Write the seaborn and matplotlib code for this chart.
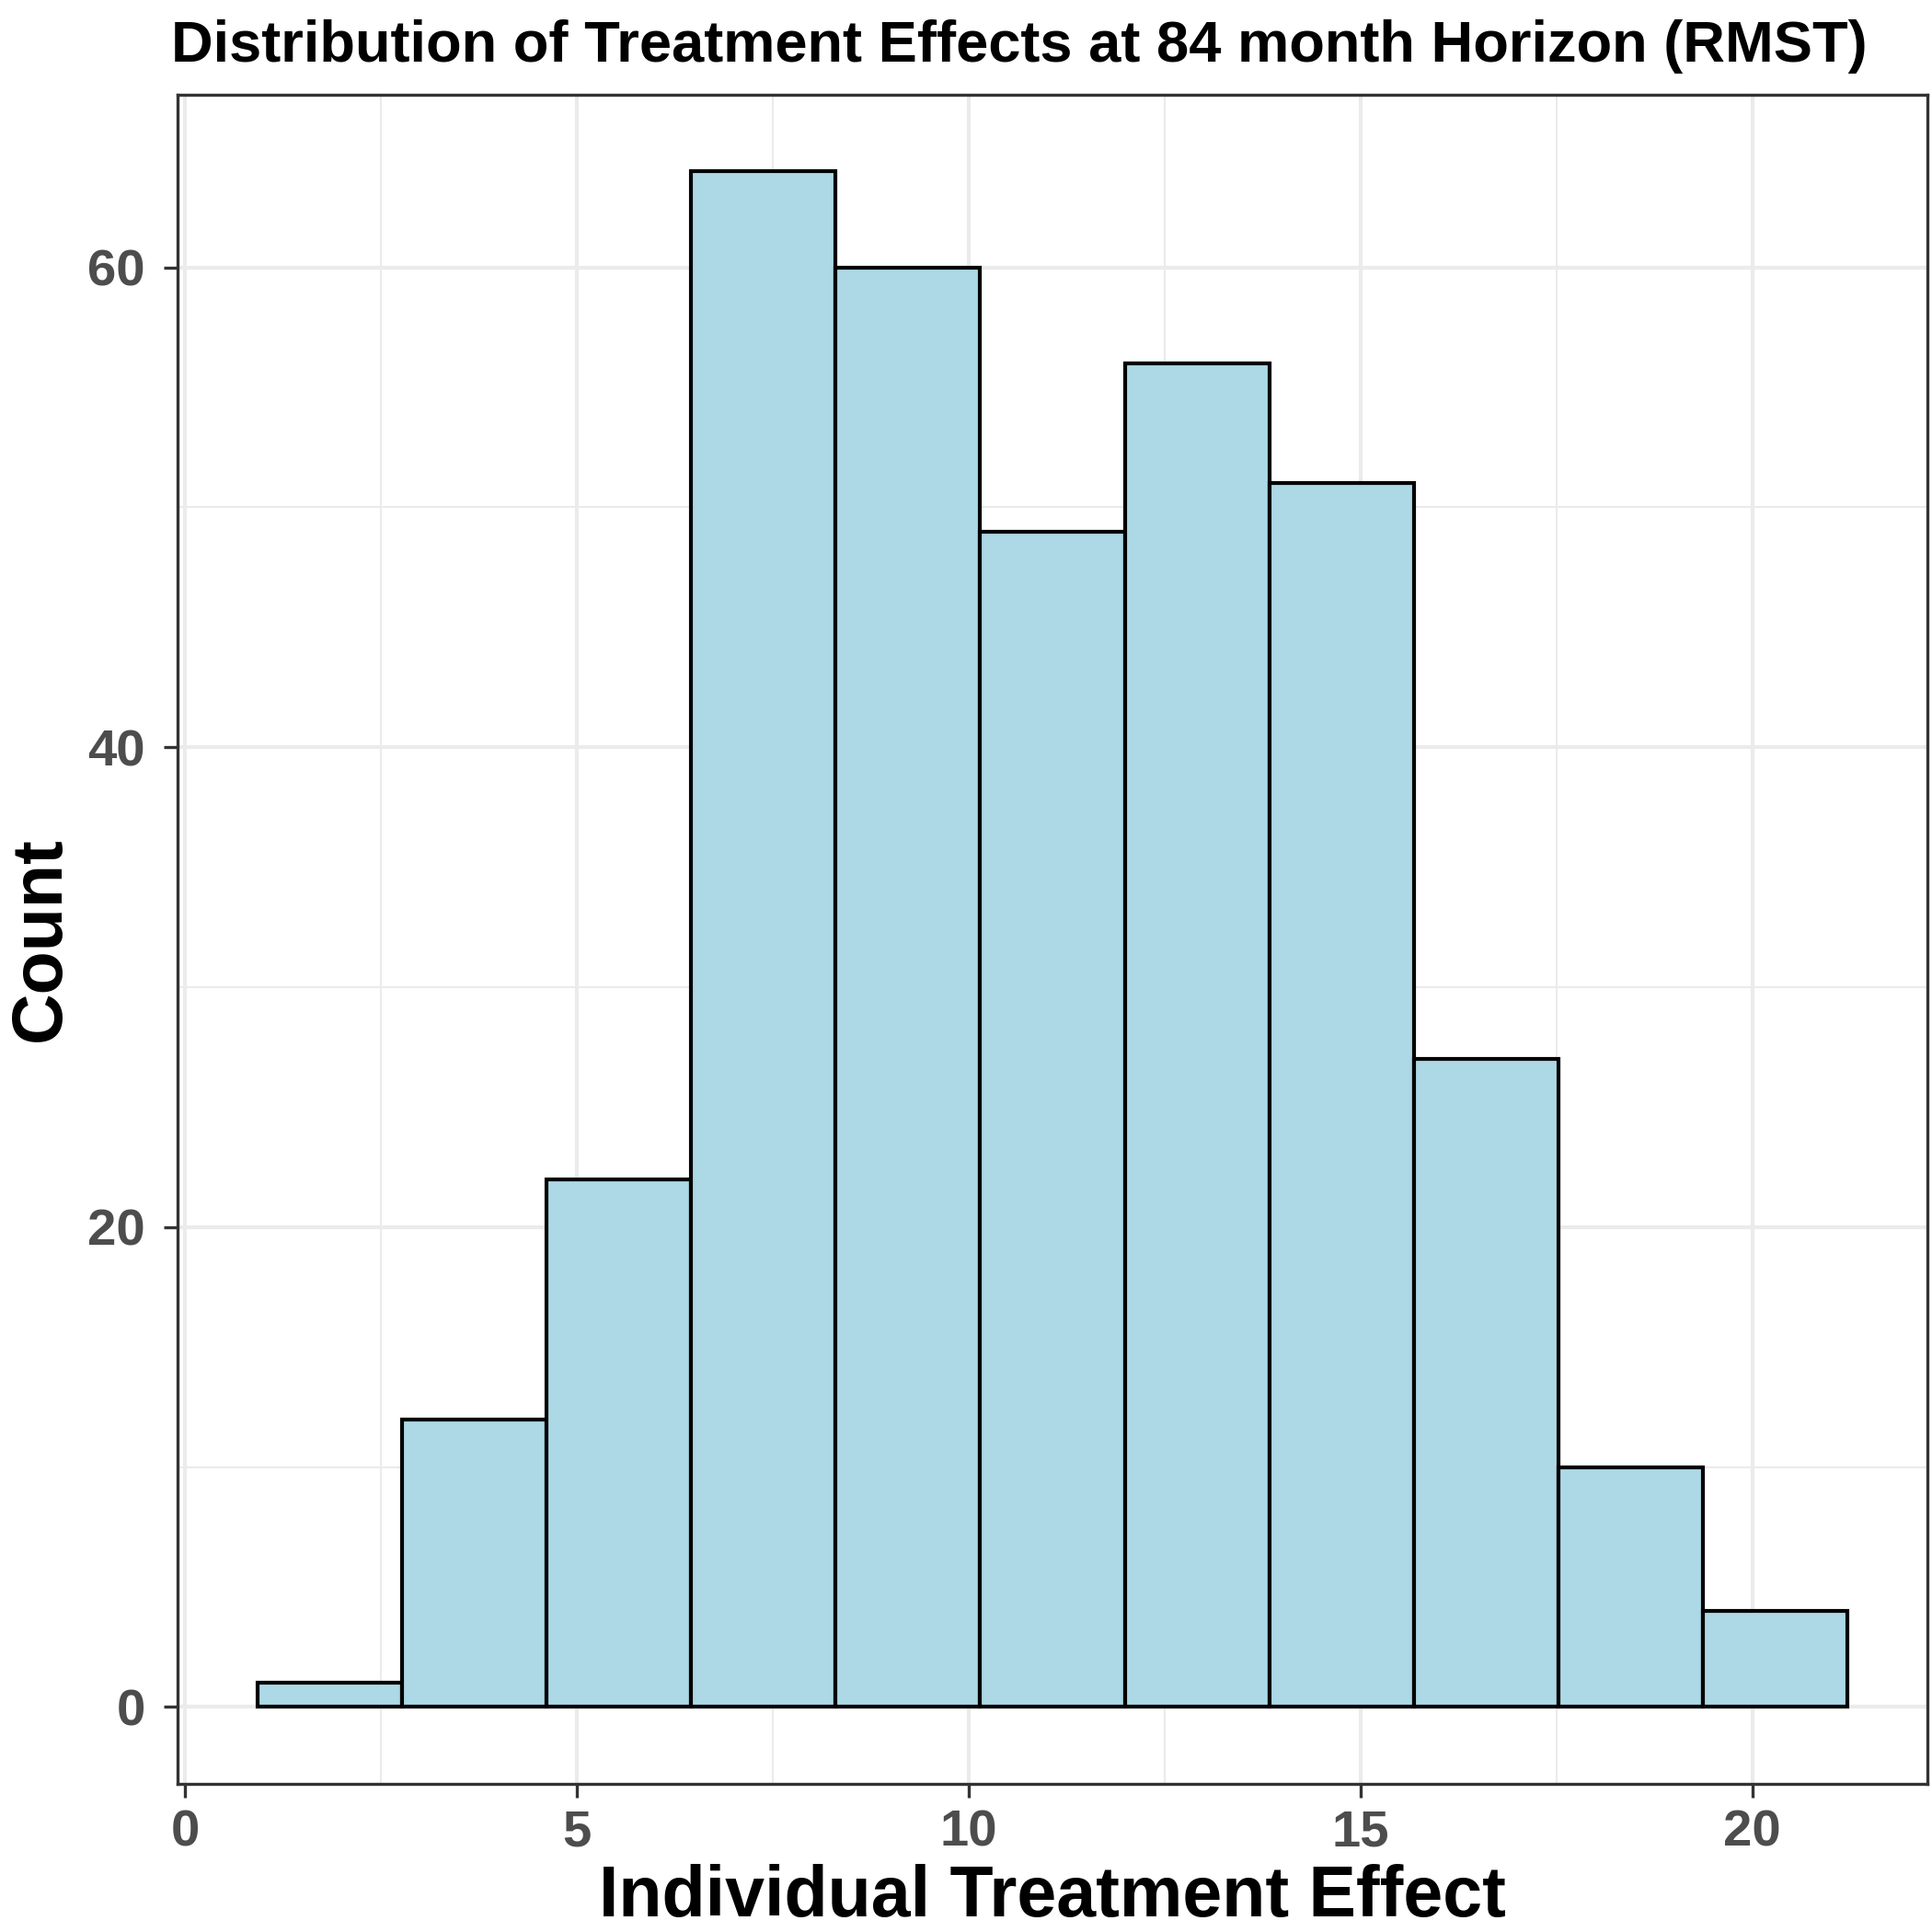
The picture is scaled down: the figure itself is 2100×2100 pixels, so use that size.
import matplotlib
matplotlib.use("Agg")
import matplotlib.pyplot as plt
import seaborn as sns
import numpy as np
import pandas as pd
from matplotlib.ticker import MultipleLocator

# ---- data ----
bin_edges = [0.92, 2.765, 4.61, 6.455, 8.30, 10.145, 11.99, 13.835, 15.68, 17.525, 19.37, 21.215]
bin_counts = [1, 12, 22, 64, 60, 49, 56, 51, 27, 10, 4]
x_ticks = [0, 5, 10, 15, 20]
y_ticks = [0, 20, 40, 60]
title = "Distribution of Treatment Effects at 84 month Horizon (RMST)"
x_label = "Individual Treatment Effect"
y_label = "Count"

edges = np.array(bin_edges)
centers = (edges[:-1] + edges[1:]) / 2
df = pd.DataFrame({"effect": centers, "n": bin_counts})

sns.set_theme(style="white")
plt.rcParams["font.family"] = ["Liberation Sans", "DejaVu Sans"]

fig = plt.figure(figsize=(7, 7), dpi=300)
ax = fig.add_axes([0.0921, 0.0767, 0.9053, 0.8743])

sns.histplot(data=df, x="effect", weights="n", bins=bin_edges, ax=ax,
             color="#ADD8E6", edgecolor="black", linewidth=1.0, alpha=1.0,
             zorder=3)

# ggplot-like limits (5% expansion)
xr = edges[-1] - edges[0]
ax.set_xlim(edges[0] - 0.05 * xr, edges[-1] + 0.05 * xr)
ymax = max(bin_counts)
ax.set_ylim(-0.05 * ymax, ymax * 1.05)

ax.set_xticks(x_ticks)
ax.set_yticks(y_ticks)
ax.xaxis.set_minor_locator(MultipleLocator(2.5))
ax.yaxis.set_minor_locator(MultipleLocator(10))
ax.grid(True, which="major", color="#EBEBEB", linewidth=1.0, zorder=0)
ax.grid(True, which="minor", color="#EBEBEB", linewidth=0.5, zorder=0)
ax.set_axisbelow(True)

for s in ax.spines.values():
    s.set_color("#333333")
    s.set_linewidth(0.8)
    s.set_visible(True)

ax.tick_params(axis="both", which="major", length=3.5, width=0.8, color="#333333",
               labelsize=13.5, labelcolor="#4D4D4D", bottom=True, left=True)
ax.tick_params(axis="y", which="major", pad=5)
ax.tick_params(axis="x", which="major", pad=3)
ax.tick_params(axis="both", which="minor", length=0)
for lab in ax.get_xticklabels() + ax.get_yticklabels():
    lab.set_fontweight("bold")

ax.set_xlabel(x_label, fontsize=18.5, fontweight="bold", color="black", labelpad=2)
ax.set_ylabel(y_label, fontsize=18.5, fontweight="bold", color="black")
ax.yaxis.set_label_coords(-0.059, 0.5)

fig.text(0.0885, 0.968, title, fontsize=15.2, fontweight="bold", color="black",
         ha="left", va="baseline")

fig.savefig("out.png", dpi=300)
